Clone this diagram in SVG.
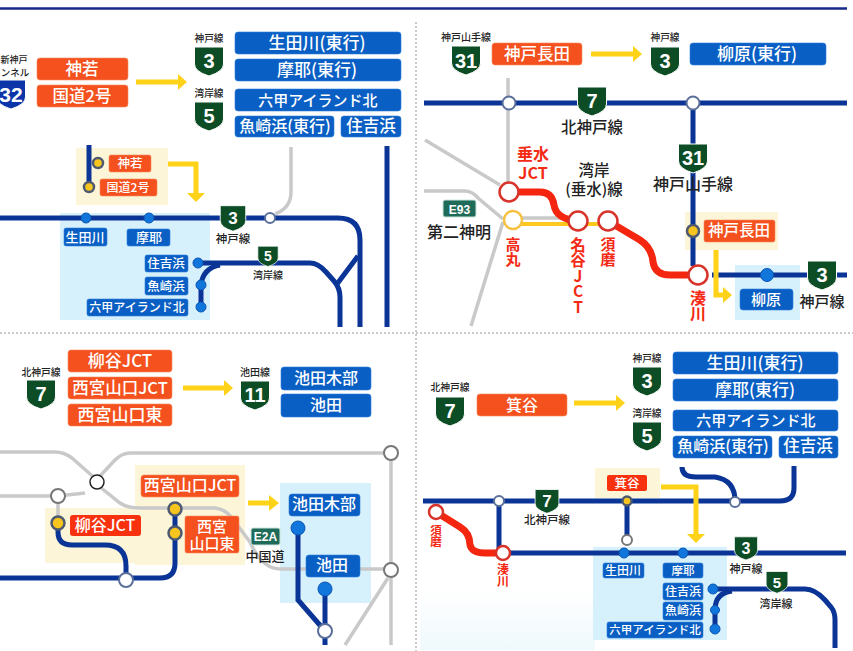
<svg xmlns="http://www.w3.org/2000/svg" width="853" height="651" viewBox="0 0 853 651">
<style>
text{font-family:"Noto Sans CJK JP","Liberation Sans",sans-serif;text-anchor:middle}
.o{fill:#f4511e;stroke:#f98a5a;stroke-width:.6}
.u{fill:#0a5fc4;stroke:#2f82dc;stroke-width:.6}
.y{fill:#fdf5d8}.s{fill:#d6f1fb}
.w{fill:#fff;font-weight:500}
.k{fill:#222;font-weight:500}
.r{fill:#f42a14;font-weight:700}
.v{writing-mode:vertical-rl;text-orientation:upright}
.n{fill:#fff;font-family:"Liberation Sans",sans-serif;font-weight:700}
.line{fill:none;stroke:#0a3496;stroke-width:5;stroke-linecap:butt}
.gray{fill:none;stroke:#c9c9c9;stroke-width:3.5}
.red{fill:none;stroke:#f4260f;stroke-width:7}
.ya{fill:none;stroke:#ffd21a;stroke-width:5}
.yh{fill:#ffd21a}
.yl{fill:none;stroke:#ffc81e;stroke-width:4}
.cw{fill:#fff;stroke:#5a6f9a;stroke-width:2}
.cg{fill:#fff;stroke:#777;stroke-width:2}
.cr{fill:#fff;stroke:#d8332a;stroke-width:2.5}
.cy{fill:#f8c51e;stroke:#4e5a70;stroke-width:2.5}
.cb{fill:#1176dc;stroke:#0c55b4;stroke-width:1}
.dot{fill:none;stroke:#b8b8b8;stroke-width:1.5;stroke-dasharray:2 2}
.sg{fill:#1f6b5a;stroke:#cfe3dc;stroke-width:1}
</style>
<defs>
<path id="sh" d="M-14.5,-14H14.5V3Q14.5,10.500,0,15Q-14.500,10.500,-14.500,3Z" fill="#0d4d26" stroke="#fff" stroke-width="1"/>
<path id="shb" d="M-14.5,-14H14.5V3Q14.5,10.500,0,15Q-14.500,10.500,-14.500,3Z" fill="#0b35a8" stroke="#fff" stroke-width="1"/>
<linearGradient id="fade" x1="0" y1="0" x2="0" y2="1"><stop offset="0" stop-color="#fff"/><stop offset="1" stop-color="#eff9fd"/></linearGradient>
</defs>
<rect width="853" height="651" fill="#fff"/>
<rect x="420" y="590" width="175" height="60" fill="url(#fade)"/>
<g id="frame">
<path d="M0,8.500H847" stroke="#16288a" stroke-width="2.500" fill="none"/>
<path class="dot" d="M416,22V651M0,333H853"/>
</g>
<g id="areas">
<rect class="y" x="76" y="148" width="92" height="57"/>
<rect class="s" x="60" y="213" width="150" height="107"/>
<rect class="y" x="685" y="212" width="93" height="38"/>
<rect class="s" x="735" y="265" width="65" height="55"/>
<rect class="y" x="45" y="508" width="121" height="55"/>
<rect class="y" x="135" y="465" width="110" height="100"/>
<rect class="s" x="280" y="483" width="91" height="120"/>
<rect class="y" x="595" y="468" width="65" height="30"/>
<rect class="s" x="593" y="547" width="134" height="93"/>
</g>
<g id="connectors">
<path class="gray" d="M291,147V192Q291,208,275,214"/>
<path class="line" d="M0,218H338Q360,218,360,240V327"/>
<path class="line" d="M89,145V187"/>
<path class="line" d="M387,146V327"/>
<path class="line" d="M198,263H310Q318,263,326,272L334,281Q340,288,340,297V327"/>
<path class="line" d="M201,307V285Q203,268,220,265M337,284L358,256"/>
<path class="ya" d="M168,164H196V196"/><path class="yh" d="M187,193H205L196,202Z"/>
<path class="ya" d="M136,82H180"/><path class="yh" d="M178,74L187,82L178,90Z"/>

<path class="gray" d="M508,78V190M425,140L500,185M424,191H465Q472,191,478,198L503,219M503,222L471,326"/>
<path class="line" d="M424,103H847"/>
<path class="line" d="M693,103V266"/>
<path class="line" d="M712,275H847"/>
<path class="gray" d="M513,218H560"/>
<path class="yl" d="M513,224H610"/>
<path class="red" d="M509,192H540Q552,192,554,205Q556,219,578,221"/>
<path class="red" d="M608,221L640,240Q652,248,653,262Q655,275,670,275H698"/>
<path class="ya" d="M716,250V295H725"/><path class="yh" d="M723,287L732,295L723,303Z"/>
<path class="ya" d="M591,54H635"/><path class="yh" d="M633,46L642,54L633,62Z"/>

<path class="ya" d="M183,388H226"/><path class="yh" d="M224,380L233,388L224,396Z"/>
<path class="ya" d="M248,503H271"/><path class="yh" d="M269,495L279,503L269,511Z"/>
<path class="gray" d="M0,452H55Q64,452,72,458L97,480M391,453H130Q122,453,115,460L100,476"/>
<path class="gray" d="M0,496H58L85,493M100,487L120,503Q127,508,140,508H215Q225,509,232,518L250,542Q262,569,280,569H391"/>
<path class="gray" d="M58,496V523M391,453V645M388,578L345,645"/>
<path class="line" d="M58,523V532Q58,545,72,545H105Q126,545,126,566V578"/>
<path class="line" d="M0,578H160Q175,578,175,563V509"/>
<path class="line" d="M298,528V600L325,631"/>
<path class="line" d="M325,589V645"/>

<path class="ya" d="M574,403H618"/><path class="yh" d="M616,395L625,403L616,411Z"/>
<path class="line" d="M423,501H780Q794,501,794,488V466"/>
<path class="line" d="M682,467Q682,477,696,477H715Q735,480,735,501"/>
<path class="line" d="M499,501V551"/>
<path class="line" d="M627,501V540"/>
<path class="line" d="M503,553H846"/>
<path class="red" d="M436,512L460,527Q470,533,470,545Q472,553,485,553H503"/>
<path class="ya" d="M661,487H696V535"/><path class="yh" d="M687,534H705L696,543Z"/>
<path class="line" d="M713,589H805Q815,589,825,600L831,607Q835,612,835,620V648"/>
<path class="line" d="M715,629V610Q715,593,732,591"/>
</g>

<g id="panel-shinko">
<text class="k" x="14" y="63" font-size="9">新神戸</text>
<text class="k" x="15" y="76" font-size="9.500">ンネル</text>
<use href="#shb" transform="translate(11,94)"/><text class="n" x="11" y="102" font-size="21">32</text>
<rect class="o" x="37" y="58" width="91" height="22" rx="3"/><text class="w" x="82" y="75" font-size="16.500">神若</text>
<rect class="o" x="37" y="85" width="91" height="22" rx="3"/><text class="w" x="82" y="102" font-size="16.500">国道2号</text>
<text class="k" x="209" y="42" font-size="9.700">神戸線</text>
<use href="#sh" transform="translate(209,61)"/><text class="n" x="209" y="68" font-size="20">3</text>
<text class="k" x="209" y="97" font-size="9.700">湾岸線</text>
<use href="#sh" transform="translate(209,116)"/><text class="n" x="209" y="123" font-size="20">5</text>
<rect class="u" x="235" y="32" width="166" height="22" rx="3"/><text class="w" x="317" y="49" font-size="17">生田川(東行)</text>
<rect class="u" x="235" y="59" width="166" height="22" rx="3"/><text class="w" x="317" y="76" font-size="17">摩耶(東行)</text>
<rect class="u" x="235" y="89" width="166" height="22" rx="3"/><text class="w" x="318" y="106" font-size="15">六甲アイランド北</text>
<rect class="u" x="235" y="116" width="99" height="21" rx="3"/><text class="w" x="285" y="132" font-size="16">魚崎浜(東行)</text>
<rect class="u" x="341" y="116" width="60" height="21" rx="3"/><text class="w" x="371" y="132" font-size="16.500">住吉浜</text>
<rect class="o" x="109" y="155" width="42" height="17" rx="2"/><text class="w" x="130" y="168" font-size="12.500">神若</text>
<rect class="o" x="100" y="179" width="57" height="17" rx="2"/><text class="w" x="128" y="192" font-size="12">国道2号</text>
<circle class="cy" cx="98" cy="163" r="5"/><circle class="cy" cx="89" cy="187" r="5"/>
<circle class="cb" cx="86" cy="218" r="5"/><circle class="cb" cx="149" cy="218" r="5"/><circle class="cw" cx="270" cy="218" r="5"/>
<use href="#sh" transform="translate(233,218) scale(.88)"/><text class="n" x="233" y="224" font-size="17">3</text>
<text class="k" x="233" y="243" font-size="11.500">神戸線</text>
<use href="#sh" transform="translate(268,256) scale(.7)"/><text class="n" x="268" y="261" font-size="14">5</text>
<text class="k" x="268" y="279" font-size="10">湾岸線</text>
<rect class="u" x="64" y="228" width="43" height="18" rx="2"/><text class="w" x="85" y="242" font-size="13">生田川</text>
<rect class="u" x="127" y="229" width="43" height="17" rx="2"/><text class="w" x="149" y="242" font-size="13">摩耶</text>
<rect class="u" x="145" y="255" width="43" height="17" rx="2"/><text class="w" x="166" y="268" font-size="12.500">住吉浜</text>
<rect class="u" x="145" y="277" width="43" height="18" rx="2"/><text class="w" x="166" y="291" font-size="12.500">魚崎浜</text>
<rect class="u" x="87" y="299" width="101" height="17" rx="2"/><text class="w" x="137" y="312" font-size="12">六甲アイランド北</text>
<circle class="cb" cx="198" cy="263" r="5"/><circle class="cb" cx="201" cy="285" r="5"/><circle class="cb" cx="201" cy="307" r="5"/>
</g>

<g id="panel-nagata">
<text class="k" x="466" y="41" font-size="10">神戸山手線</text>
<use href="#sh" transform="translate(466,60)"/><text class="n" x="466" y="68" font-size="20">31</text>
<rect class="o" x="492" y="43" width="90" height="22" rx="3"/><text class="w" x="537" y="60" font-size="16.500">神戸長田</text>
<text class="k" x="665" y="41" font-size="9.700">神戸線</text>
<use href="#sh" transform="translate(665,61)"/><text class="n" x="665" y="68" font-size="20">3</text>
<rect class="u" x="690" y="43" width="136" height="22" rx="3"/><text class="w" x="757" y="60" font-size="17">柳原(東行)</text>
<circle class="cw" cx="509" cy="103" r="6.500"/><circle class="cw" cx="693" cy="103" r="6.500"/>
<use href="#sh" transform="translate(592,101)"/><text class="n" x="592" y="108" font-size="20">7</text>
<text class="k" x="592" y="133" font-size="15.500">北神戸線</text>
<use href="#sh" transform="translate(693,158)"/><text class="n" x="693" y="165" font-size="20">31</text>
<text class="k" x="693" y="190" font-size="16">神戸山手線</text>
<text class="r" font-size="16"><tspan x="533" y="160">垂水</tspan><tspan x="533" y="179">JCT</tspan></text>
<text class="k" font-size="15.500"><tspan x="594" y="176">湾岸</tspan><tspan x="594" y="195">(垂水)線</tspan></text>
<rect class="sg" x="443" y="200" width="33" height="17" rx="2"/><text class="n" x="459.500" y="214" font-size="12">E93</text>
<text class="k" x="459" y="238" font-size="16">第二神明</text>
<circle cx="513" cy="220" r="9" fill="#fff" stroke="#f5c242" stroke-width="2.500"/>
<circle class="cr" cx="509" cy="192" r="9.500"/><circle class="cr" cx="578" cy="221" r="9.500"/><circle class="cr" cx="608" cy="221" r="9.500"/>
<text class="r v" x="513" y="252" font-size="15">高丸</text>
<text class="r v" x="578" y="276" font-size="15.500">名谷JCT</text>
<text class="r v" x="608" y="252" font-size="15">須磨</text>
<circle class="cy" cx="693" cy="231" r="6"/>
<rect class="o" x="704" y="220" width="71" height="22" rx="2"/><text class="w" x="739" y="236" font-size="15.500">神戸長田</text>
<circle class="cr" cx="698" cy="275" r="9.500"/>
<circle class="cb" cx="767" cy="275" r="6.500"/>
<use href="#sh" transform="translate(822,275)"/><text class="n" x="822" y="282" font-size="20">3</text>
<text class="k" x="822" y="307" font-size="15">神戸線</text>
<rect class="u" x="740" y="289" width="53" height="21" rx="3"/><text class="w" x="766" y="305" font-size="15">柳原</text>
<text class="r v" x="698" y="306" font-size="16">湊川</text>
</g>

<g id="panel-nishinomiya">
<text class="k" x="41" y="376" font-size="9.800">北神戸線</text>
<use href="#sh" transform="translate(41,394)"/><text class="n" x="41" y="401" font-size="20">7</text>
<rect class="o" x="68" y="350" width="104" height="22" rx="3"/><text class="w" x="120" y="367" font-size="17">柳谷JCT</text>
<rect class="o" x="68" y="377" width="104" height="22" rx="3"/><text class="w" x="120" y="394" font-size="16.500">西宮山口JCT</text>
<rect class="o" x="68" y="404" width="104" height="22" rx="3"/><text class="w" x="120" y="421" font-size="17">西宮山口東</text>
<text class="k" x="255" y="376" font-size="10">池田線</text>
<use href="#sh" transform="translate(255,395)"/><text class="n" x="255" y="402" font-size="20">11</text>
<rect class="u" x="281" y="367" width="90" height="23" rx="3"/><text class="w" x="326" y="384" font-size="16">池田木部</text>
<rect class="u" x="281" y="394" width="90" height="23" rx="3"/><text class="w" x="326" y="411" font-size="16">池田</text>
<circle cx="97" cy="482" r="7" fill="#fff" stroke="#222" stroke-width="1.500"/>
<circle class="cg" cx="58" cy="496" r="7"/>
<circle class="cg" cx="391" cy="453" r="7"/><circle class="cg" cx="391" cy="570" r="7"/>
<circle class="cy" cx="58" cy="523" r="6.500"/><circle class="cy" cx="175" cy="509" r="6.500"/><circle class="cy" cx="175" cy="533" r="6.500"/>
<circle class="cw" cx="126" cy="580" r="7"/>
<rect x="70" y="515" width="71" height="21" rx="3" fill="#f8320f"/><text class="w" x="105" y="531" font-size="16">柳谷JCT</text>
<rect class="o" x="141" y="475" width="98" height="22" rx="3"/><text class="w" x="190" y="491" font-size="16">西宮山口JCT</text>
<rect class="o" x="185" y="516" width="54" height="37" rx="2"/><text class="w" font-size="15"><tspan x="212" y="532">西宮</tspan><tspan x="212" y="549">山口東</tspan></text>
<rect class="sg" x="251" y="528" width="29" height="17" rx="2"/><text class="n" x="265.500" y="541" font-size="12">E2A</text>
<text class="k" x="265" y="561" font-size="13">中国道</text>
<rect class="u" x="289" y="494" width="71" height="22" rx="3"/><text class="w" x="324" y="510" font-size="16">池田木部</text>
<rect class="u" x="306" y="555" width="54" height="22" rx="3"/><text class="w" x="332" y="571" font-size="16">池田</text>
<circle class="cb" cx="298" cy="528" r="7"/><circle class="cb" cx="325" cy="589" r="7"/>
<circle class="cw" cx="325" cy="631" r="7"/>
</g>

<g id="panel-minotani">
<text class="k" x="450" y="391" font-size="9.800">北神戸線</text>
<use href="#sh" transform="translate(450,411)"/><text class="n" x="450" y="418" font-size="20">7</text>
<rect class="o" x="477" y="394" width="90" height="22" rx="3"/><text class="w" x="522" y="411" font-size="16">箕谷</text>
<text class="k" x="647" y="362" font-size="9.700">神戸線</text>
<use href="#sh" transform="translate(647,381)"/><text class="n" x="647" y="388" font-size="20">3</text>
<text class="k" x="647" y="417" font-size="9.700">湾岸線</text>
<use href="#sh" transform="translate(647,436)"/><text class="n" x="647" y="443" font-size="20">5</text>
<rect class="u" x="673" y="352" width="165" height="22" rx="3"/><text class="w" x="755" y="369" font-size="17">生田川(東行)</text>
<rect class="u" x="673" y="379" width="165" height="22" rx="3"/><text class="w" x="755" y="396" font-size="17">摩耶(東行)</text>
<rect class="u" x="673" y="410" width="165" height="21" rx="3"/><text class="w" x="756" y="426" font-size="15">六甲アイランド北</text>
<rect class="u" x="673" y="436" width="99" height="22" rx="3"/><text class="w" x="723" y="452" font-size="16">魚崎浜(東行)</text>
<rect class="u" x="779" y="436" width="59" height="22" rx="3"/><text class="w" x="808" y="452" font-size="16.500">住吉浜</text>
<use href="#sh" transform="translate(547,501) scale(.82)"/><text class="n" x="547" y="507" font-size="17">7</text>
<text class="k" x="547" y="524" font-size="11.500">北神戸線</text>
<rect x="607" y="475" width="40" height="16" rx="2" fill="#f8320f"/><text class="w" x="627" y="488" font-size="12.500">箕谷</text>
<circle class="cw" cx="499" cy="501" r="5"/><circle class="cy" cx="627" cy="501" r="4.500"/><circle class="cw" cx="735" cy="502" r="5"/>
<circle class="cg" cx="627" cy="540" r="5"/>
<circle class="cr" cx="436" cy="512" r="7"/><circle class="cr" cx="503" cy="553" r="7"/>
<text class="r v" x="436" y="536" font-size="11.500">須磨</text>
<text class="r v" x="503" y="575" font-size="12">湊川</text>
<circle class="cb" cx="624" cy="553" r="5"/><circle class="cb" cx="683" cy="553" r="5"/>
<use href="#sh" transform="translate(746,548) scale(.8)"/><text class="n" x="746" y="554" font-size="16">3</text>
<text class="k" x="746" y="573" font-size="11">神戸線</text>
<use href="#sh" transform="translate(777,582) scale(.75)"/><text class="n" x="777" y="588" font-size="15">5</text>
<text class="k" x="776" y="608" font-size="11">湾岸線</text>
<rect class="u" x="603" y="563" width="41" height="15" rx="2"/><text class="w" x="623" y="575" font-size="12">生田川</text>
<rect class="u" x="663" y="563" width="40" height="15" rx="2"/><text class="w" x="683" y="575" font-size="11.500">摩耶</text>
<rect class="u" x="663" y="583" width="40" height="17" rx="2"/><text class="w" x="683" y="596" font-size="12">住吉浜</text>
<rect class="u" x="663" y="602" width="40" height="18" rx="2"/><text class="w" x="683" y="615" font-size="12">魚崎浜</text>
<rect class="u" x="607" y="622" width="96" height="16" rx="2"/><text class="w" x="655" y="634" font-size="11.500">六甲アイランド北</text>
<circle class="cb" cx="713" cy="589" r="5"/><circle class="cb" cx="715" cy="610" r="4.500"/><circle class="cb" cx="715" cy="629" r="5"/>
</g>
</svg>
